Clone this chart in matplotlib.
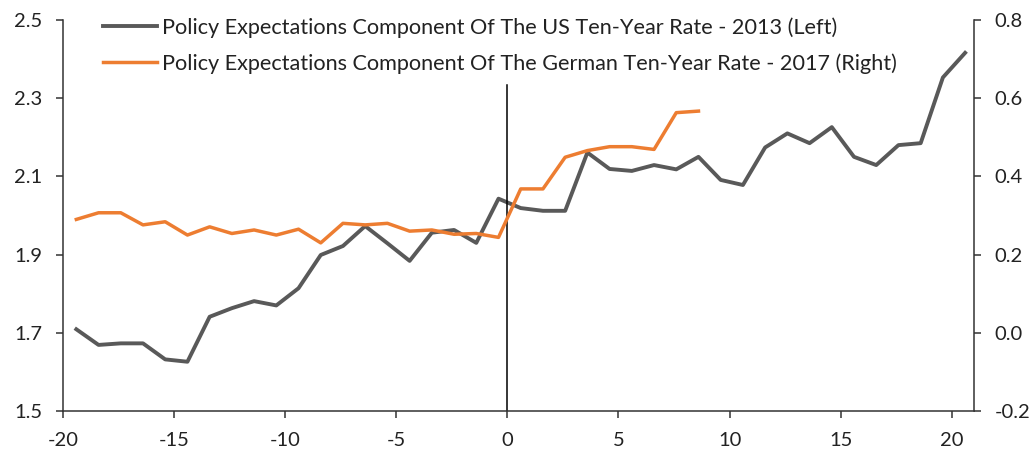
import matplotlib
matplotlib.use("Agg")
import matplotlib.pyplot as plt
from matplotlib.lines import Line2D

# days relative to event
days = [-19.4, -18.4, -17.4, -16.4, -15.4, -14.4, -13.4, -12.4, -11.4, -10.4,
        -9.4, -8.4, -7.4, -6.4, -5.4, -4.4, -3.4, -2.4, -1.4, -0.4,
        0.6, 1.6, 2.6, 3.6, 4.6, 5.6, 6.6, 7.6, 8.6, 9.6,
        10.6, 11.6, 12.6, 13.6, 14.6, 15.6, 16.6, 17.6, 18.6, 19.6, 20.6]

us_2013 = [1.709, 1.669, 1.673, 1.673, 1.632, 1.626, 1.741, 1.763, 1.781, 1.770,
           1.814, 1.899, 1.922, 1.973, 1.929, 1.884, 1.956, 1.963, 1.930, 2.043,
           2.019, 2.012, 2.012, 2.161, 2.119, 2.114, 2.129, 2.118, 2.150, 2.091,
           2.078, 2.174, 2.210, 2.185, 2.226, 2.150, 2.129, 2.180, 2.185, 2.353, 2.416]

german_2017 = [0.290, 0.307, 0.307, 0.276, 0.284, 0.250, 0.271, 0.254, 0.263, 0.250,
               0.265, 0.230, 0.280, 0.276, 0.280, 0.260, 0.263, 0.252, 0.254, 0.244,
               0.368, 0.368, 0.449, 0.466, 0.476, 0.476, 0.469, 0.563, 0.567]

x_ticks = [-20, -15, -10, -5, 0, 5, 10, 15, 20]
left_ticks = [1.5, 1.7, 1.9, 2.1, 2.3, 2.5]
right_ticks = [-0.2, 0.0, 0.2, 0.4, 0.6, 0.8]

label_us = "Policy Expectations Component Of The US Ten-Year Rate - 2013 (Left)"
label_de = "Policy Expectations Component Of The German Ten-Year Rate - 2017 (Right)"

gray = "#595959"
orange = "#ED7D31"
text_c = "#222222"
spine_c = "#333333"
font = ["Lato", "DejaVu Sans"]

fig = plt.figure(figsize=(10.36, 4.49), dpi=100)
ax = fig.add_axes([63 / 1036, 1 - 411 / 449, (974 - 63) / 1036, (411 - 20) / 449])
ax2 = ax.twinx()

ax.plot(days, us_2013, color=gray, lw=2.8, solid_joinstyle="round")
ax2.plot(days[:len(german_2017)], german_2017, color=orange, lw=2.5, solid_joinstyle="round")
ax.axvline(0, ymin=0, ymax=0.834, color="black", lw=1.1)

ax.set_xlim(-20, 21)
ax.set_ylim(1.5, 2.5)
ax2.set_ylim(-0.2, 0.8)

ax.set_xticks(x_ticks)
ax.set_xticklabels([str(t) for t in x_ticks])
ax.set_yticks(left_ticks)
ax.set_yticklabels([f"{t:.1f}" for t in left_ticks])
ax2.set_yticks(right_ticks)
ax2.set_yticklabels([f"{t:.1f}" for t in right_ticks])

for a in (ax, ax2):
    a.spines["top"].set_visible(False)
    for s in a.spines.values():
        s.set_color(spine_c)
        s.set_linewidth(1.1)
    a.tick_params(direction="out", length=5, width=1.1, color=spine_c,
                  labelcolor=text_c, labelsize=14.5, pad=10)
    for lab in a.get_xticklabels() + a.get_yticklabels():
        lab.set_family(font)
ax.spines["right"].set_visible(False)
ax2.spines["left"].set_visible(False)
ax2.spines["bottom"].set_visible(False)

handles = [Line2D([], [], color=gray, lw=2.8), Line2D([], [], color=orange, lw=2.5)]
fs = 15.6
fs_px = fs * 100 / 72
leg = ax.legend(handles, [label_us, label_de], loc="upper left",
                bbox_to_anchor=(103 / 1036, 1 - 17 / 449), bbox_transform=fig.transFigure,
                frameon=False, borderpad=0, borderaxespad=0,
                handlelength=54 / fs_px, handletextpad=5 / fs_px,
                labelspacing=0.72,
                prop={"family": font, "size": fs})
for t in leg.get_texts():
    t.set_color(text_c)

fig.savefig("out.png", dpi=100)
